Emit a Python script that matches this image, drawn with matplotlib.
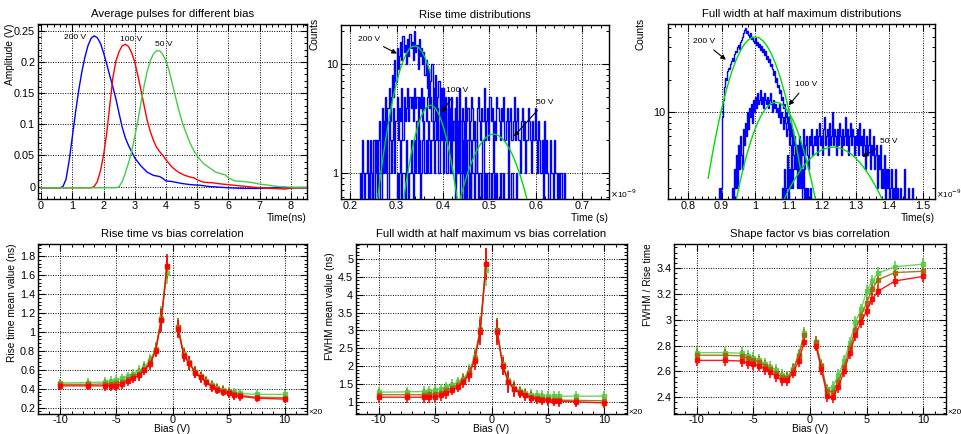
import numpy as np
import matplotlib
matplotlib.use("Agg")
import matplotlib.pyplot as plt
from matplotlib.ticker import MultipleLocator, FixedLocator, FuncFormatter, NullFormatter

plt.rcParams['font.family'] = ['Liberation Sans', 'DejaVu Sans']
plt.rcParams['axes.unicode_minus'] = False

# ---- average pulses (time in ns, amplitude in V)
t_200 = [0.0, 0.3, 0.6, 0.7, 0.8, 0.9, 1.0, 1.1, 1.2, 1.3, 1.4, 1.5, 1.6, 1.7, 1.8, 1.9, 2.0, 2.1, 2.2,
         2.3, 2.4, 2.5, 2.6, 2.7, 2.8, 2.9, 3.0, 3.2, 3.4, 3.6, 3.8, 3.9, 4.0, 4.2, 4.5, 4.8, 5.1, 5.4,
         5.7, 6.0, 6.5, 7.0, 7.5, 8.0, 8.5]
a_200 = [-0.002, -0.002, -0.002, 0.0, 0.012, 0.042, 0.08, 0.118, 0.153, 0.183, 0.207, 0.226, 0.238,
         0.242, 0.239, 0.23, 0.215, 0.197, 0.178, 0.16, 0.14, 0.117, 0.095, 0.078, 0.066, 0.056, 0.046,
         0.033, 0.023, 0.018, 0.016, 0.013, 0.009, 0.008, 0.005, 0.003, 0.002, 0.0, -0.001, -0.002,
         -0.003, -0.003, -0.002, -0.002, -0.002]
t_100 = [0.0, 0.8, 1.6, 1.7, 1.8, 1.9, 2.0, 2.1, 2.2, 2.3, 2.4, 2.5, 2.6, 2.7, 2.8, 2.9, 3.0, 3.1, 3.2,
         3.3, 3.4, 3.5, 3.6, 3.7, 3.8, 3.9, 4.0, 4.2, 4.4, 4.6, 4.8, 4.9, 5.0, 5.2, 5.5, 5.8, 6.2, 6.6,
         7.0, 7.4, 7.8, 8.1, 8.5]
a_100 = [-0.002, -0.002, -0.002, 0.0, 0.008, 0.025, 0.05, 0.085, 0.13, 0.175, 0.202, 0.217, 0.226,
         0.2285, 0.225, 0.215, 0.2, 0.178, 0.155, 0.13, 0.106, 0.088, 0.074, 0.063, 0.056, 0.05, 0.043,
         0.031, 0.023, 0.018, 0.015, 0.014, 0.011, 0.007, 0.006, 0.004, 0.002, 0.0, -0.002, -0.003,
         -0.004, -0.002, -0.002]
t_50 = [0.0, 1.2, 2.4, 2.5, 2.6, 2.7, 2.8, 2.9, 3.0, 3.1, 3.2, 3.3, 3.4, 3.5, 3.6, 3.7, 3.8, 3.9, 4.0,
        4.1, 4.2, 4.3, 4.4, 4.5, 4.6, 4.7, 4.8, 4.9, 5.0, 5.2, 5.4, 5.6, 5.8, 5.9, 6.0, 6.2, 6.5, 6.8,
        7.0, 7.3, 7.6, 8.0, 8.5]
a_50 = [-0.002, -0.002, -0.002, 0.0, 0.008, 0.022, 0.038, 0.056, 0.08, 0.105, 0.135, 0.162, 0.185,
        0.202, 0.213, 0.218, 0.218, 0.212, 0.202, 0.186, 0.166, 0.145, 0.125, 0.107, 0.092, 0.079,
        0.067, 0.057, 0.049, 0.037, 0.03, 0.023, 0.02, 0.019, 0.014, 0.009, 0.008, 0.006, 0.004,
        0.002, 0.0, -0.001, -0.001]

# ---- rise time histograms (x in 1e-9 s, bin width 0.0025)
rise_bw = 0.0025
rise_start = [0.22, 0.24, 0.30]
rise_200 = [1, 0, 2, 1, 0, 1, 2, 0, 1, 2, 1, 0, 2, 1, 2, 1,
            2, 3, 1, 4, 2, 3, 5, 2, 4, 6, 3, 5,
            8, 5, 11, 7, 14, 9, 12, 16,
            11, 18, 13, 15, 10, 17, 12, 19, 14, 16, 11, 20, 13, 15, 9, 17, 12, 14, 10, 13,
            8, 11, 6, 9, 5, 7, 10, 4, 6, 8, 3, 5, 7, 4, 6, 3,
            4, 2, 5, 1, 3, 2, 4, 1, 2, 3, 0, 2, 1, 3, 1, 0, 2, 1, 0, 1, 0, 1, 0, 1]
rise_100 = [1, 0, 0, 1, 0, 2, 1, 0, 1, 1, 0, 2, 1, 3, 1, 2, 0, 3, 2, 1,
            2, 4, 1, 3, 5, 2, 4, 3, 6, 2, 5, 3, 4, 6, 3, 5,
            4, 5, 3, 6, 4, 5, 2, 5, 4, 6, 3, 5, 4, 3, 5, 6, 4, 5, 3, 4,
            6, 3, 5, 4, 2, 5, 3, 4, 6, 3, 4, 2, 5, 3, 4, 2,
            3, 2, 4, 1, 3, 2, 2, 3, 1, 2, 0, 3, 1, 2, 1, 0, 2, 1, 1, 0, 2, 1, 0, 1, 1, 0, 2, 0,
            1, 0, 1, 1, 0, 1, 0, 0, 1, 0, 1, 0, 0, 1, 0, 0, 1, 0, 0, 0, 1, 0, 0, 1, 0, 0, 0, 1]
rise_50 = [1, 0, 1, 2, 0, 1, 1, 0, 2, 1, 0, 1, 2, 1, 0, 2, 1, 3, 1, 2, 0, 1, 2, 3,
           1, 2, 1, 3, 2, 1, 2, 3, 1, 2, 4, 2, 1, 3, 2, 4, 1, 3, 2, 2, 4, 3, 1, 5,
           3, 2, 4, 5, 2, 3, 6, 1, 4, 3, 2, 5, 3, 4, 2, 3, 5, 4, 2, 3, 1, 4, 5, 3,
           2, 4, 3, 6, 2, 3, 4, 2, 5, 3, 4, 1, 3, 2, 5, 4, 3, 2, 4, 3, 5, 2, 3, 4,
           1, 3, 4, 2, 3, 5, 2, 3, 4, 2, 1, 3, 4, 2, 3, 1, 2, 4, 3, 2, 1, 3, 2, 4,
           2, 1, 3, 2, 1, 2, 0, 3, 1, 2, 1, 0, 2, 1, 1, 0, 2, 1, 0, 1, 0, 1, 1, 0, 1, 0]
rise_fit_amp = [14.7, 4.2, 2.28]
rise_fit_mean = [0.339, 0.373, 0.509]
rise_fit_sigma = [0.0315, 0.029, 0.0435]
rise_fit_lo = [0.25, 0.30, 0.43]
rise_fit_hi = [0.373, 0.44, 0.60]

# ---- FWHM histograms (x in 1e-9 s, bin width 0.003)
fwhm_bw = 0.003
fwhm_start = [0.885, 0.93, 1.08]
fwhm_200 = [1, 0, 2, 1, 2,
            9, 13, 17, 21, 20, 24, 26, 25, 28, 30,
            32, 30, 35, 37, 36, 40, 42, 39, 45, 47,
            50, 54, 58, 61, 55, 57, 52, 50, 55, 48,
            50, 46, 44, 49, 42, 45, 40, 43, 38, 41,
            36, 39, 34, 37, 31, 33, 29, 31, 27, 28,
            25, 22, 24, 19, 21, 17, 18, 15, 16, 13,
            14, 11, 12, 9, 10, 8, 9, 7, 8, 6,
            7, 5, 6, 5, 5, 4, 5, 4, 5, 2]
fwhm_100 = [2, 1, 3, 2, 4, 2, 5, 3, 6, 4, 3, 7, 5,
            8, 6, 10, 7, 11, 9, 12, 8, 13, 10,
            14, 11, 15, 12, 13, 16, 12, 14, 11, 15,
            13, 12, 14, 11, 13, 15, 12, 10, 13, 11,
            12, 10, 11, 9, 12, 8, 10, 9, 7, 9,
            8, 6, 7, 9, 5, 7, 6, 4, 6, 5,
            4, 5, 3, 4, 2, 4, 3, 2, 3, 1,
            2, 1, 2, 0, 1, 2, 1, 0, 1, 1, 0, 1, 0, 0, 1, 0, 1]
fwhm_50 = [2, 0, 3, 1, 2, 4, 1, 3, 2, 5, 2, 3, 4,
           3, 5, 2, 4, 6, 3, 5, 4, 7, 3, 5, 6, 4, 3, 6, 5, 7, 4, 5, 6,
           5, 7, 4, 6, 8, 5, 6, 4, 7, 9, 5, 6, 7, 4, 8, 5, 6, 10, 5, 7,
           6, 4, 7, 5, 8, 6, 4, 7, 5, 6, 9, 5, 7, 4, 6, 8, 5, 7, 6, 4,
           6, 5, 7, 4, 8, 5, 6, 4, 7, 5, 3, 6, 4, 5, 7, 3, 5, 4, 6, 3, 4, 5, 2, 4, 3, 5, 2,
           3, 2, 4, 1, 3, 2, 3, 0, 2, 3, 1, 2, 0, 3, 1, 2, 0, 1, 2, 0, 1, 3, 0, 1, 0, 2, 0, 1, 0, 2]
fwhm_fit_amp = [50.0, 12.4, 4.75]
fwhm_fit_mean = [1.0, 1.062, 1.233]
fwhm_fit_sigma = [0.057, 0.058, 0.098]
fwhm_fit_lo = [0.86, 0.93, 1.08]
fwhm_fit_hi = [1.135, 1.18, 1.39]

# ---- correlations vs bias (bias in units of 20 V)
bias = [-10, -7.5, -6, -5.5, -5, -4.5, -4, -3.5, -3, -2.5, -2, -1.5, -1, -0.5,
        0.5, 1, 1.5, 2, 2.5, 3, 3.5, 4, 4.5, 5, 5.5, 6, 7.5, 10]
rise_green = [0.46, 0.465, 0.47, 0.48, 0.49, 0.51, 0.53, 0.56, 0.59, 0.63, 0.70, 0.82, 1.15, 1.62,
              1.05, 0.77, 0.68, 0.58, 0.53, 0.48, 0.44, 0.41, 0.39, 0.37, 0.36, 0.35, 0.34, 0.34]
rise_brown = [0.445, 0.445, 0.45, 0.45, 0.455, 0.47, 0.50, 0.53, 0.56, 0.61, 0.68, 0.81, 1.13, 1.68,
              1.05, 0.76, 0.67, 0.575, 0.525, 0.475, 0.43, 0.40, 0.38, 0.36, 0.34, 0.33, 0.31, 0.305]
rise_red = [0.43, 0.43, 0.43, 0.43, 0.43, 0.45, 0.48, 0.51, 0.54, 0.60, 0.66, 0.80, 1.12, 1.70,
            1.03, 0.75, 0.67, 0.57, 0.52, 0.47, 0.42, 0.39, 0.37, 0.35, 0.33, 0.32, 0.30, 0.29]
rise_err = [0.045, 0.045, 0.05, 0.05, 0.05, 0.05, 0.05, 0.05, 0.055, 0.06, 0.065, 0.07, 0.12, 0.12,
            0.10, 0.07, 0.07, 0.06, 0.055, 0.05, 0.05, 0.045, 0.045, 0.045, 0.045, 0.045, 0.045, 0.045]
fwhm_green = [1.27, 1.28, 1.29, 1.30, 1.32, 1.36, 1.41, 1.48, 1.55, 1.65, 1.85, 2.25, 3.05, 4.7,
              3.0, 2.05, 1.6, 1.4, 1.3, 1.24, 1.2, 1.18, 1.17, 1.16, 1.16, 1.16, 1.16, 1.16]
fwhm_brown = [1.2, 1.2, 1.2, 1.21, 1.22, 1.26, 1.32, 1.40, 1.48, 1.60, 1.80, 2.2, 3.0, 4.85,
              3.0, 2.0, 1.57, 1.37, 1.27, 1.2, 1.15, 1.11, 1.09, 1.07, 1.06, 1.05, 1.04, 1.03]
fwhm_red = [1.13, 1.13, 1.13, 1.13, 1.14, 1.18, 1.24, 1.33, 1.42, 1.55, 1.75, 2.15, 2.95, 4.85,
            2.95, 2.0, 1.55, 1.35, 1.25, 1.18, 1.12, 1.08, 1.06, 1.04, 1.03, 1.02, 1.0, 0.97]
fwhm_err = [0.15, 0.15, 0.15, 0.15, 0.15, 0.15, 0.15, 0.15, 0.15, 0.17, 0.2, 0.25, 0.35, 0.45,
            0.35, 0.25, 0.3, 0.2, 0.15, 0.15, 0.15, 0.15, 0.15, 0.15, 0.15, 0.15, 0.15, 0.15]
shape_green = [2.745, 2.745, 2.74, 2.72, 2.705, 2.69, 2.66, 2.635, 2.61, 2.57, 2.56, 2.62, 2.73, 2.90,
               2.83, 2.65, 2.46, 2.48, 2.57, 2.68, 2.82, 2.98, 3.08, 3.22, 3.30, 3.36, 3.41, 3.43]
shape_brown = [2.725, 2.725, 2.72, 2.70, 2.685, 2.675, 2.645, 2.615, 2.585, 2.555, 2.55, 2.61, 2.72, 2.88,
               2.83, 2.64, 2.45, 2.44, 2.52, 2.63, 2.78, 2.92, 3.03, 3.13, 3.24, 3.31, 3.365, 3.375]
shape_red = [2.685, 2.685, 2.68, 2.665, 2.655, 2.645, 2.62, 2.595, 2.565, 2.53, 2.53, 2.59, 2.68, 2.83,
             2.80, 2.62, 2.41, 2.40, 2.48, 2.60, 2.74, 2.88, 2.98, 3.07, 3.16, 3.22, 3.30, 3.335]
shape_err = [0.045] * 28

W, H = 961, 434
fig = plt.figure(figsize=(W / 100, H / 100), dpi=100)
fmt_g = FuncFormatter(lambda v, p: "%g" % round(v, 6))
TITLE_FS = 8.2


def px_axes(x0, y0, x1, y1):
    return fig.add_axes([x0 / W, 1 - y1 / H, (x1 - x0) / W, (y1 - y0) / H])


def root_style(ax):
    ax.tick_params(which='both', direction='in', top=True, right=True, labelsize=7.8, pad=2)
    ax.tick_params(axis='x', which='both', pad=1.5)
    ax.tick_params(which='major', length=5, width=0.8)
    ax.tick_params(which='minor', length=2.5, width=0.7)
    ax.grid(True, which='major', color='black', linestyle=(0, (1, 1.5)), linewidth=0.7)
    for s in ax.spines.values():
        s.set_linewidth(1.0)


def gauss_fit(ax, amp, mean, sig, lo, hi):
    xs = np.linspace(lo, hi, 200)
    ax.plot(xs, amp * np.exp(-0.5 * ((xs - mean) / sig) ** 2), color='#00dd00', lw=1.0, zorder=4)


def hist_steps(ax, start, bw, counts, ymin):
    c = np.maximum(np.array(counts, dtype=float), ymin)
    edges = start + bw * np.arange(len(c) + 1)
    ax.stairs(c, edges, baseline=ymin, color='blue', lw=1.0, zorder=3)


# ---------------- top left
ax = px_axes(38, 24, 307, 199)
root_style(ax)
ax.plot(t_200, a_200, color='blue', lw=1.0)
ax.plot(t_100, a_100, color='red', lw=1.0)
ax.plot(t_50, a_50, color='#44cc44', lw=1.0)
ax.set_xlim(-0.1, 8.52)
ax.set_ylim(-0.02, 0.261)
ax.xaxis.set_major_locator(MultipleLocator(1))
ax.xaxis.set_minor_locator(MultipleLocator(0.2))
ax.yaxis.set_major_locator(MultipleLocator(0.05))
ax.yaxis.set_minor_locator(MultipleLocator(0.01))
ax.yaxis.set_major_formatter(fmt_g)
ax.text(1.08, 0.24, "200 V", fontsize=6, ha='center', va='center')
ax.text(2.88, 0.236, "100 V", fontsize=6, ha='center', va='center')
ax.text(3.94, 0.228, "50 V", fontsize=6, ha='center', va='center')
ax.set_title("Average pulses for different bias", fontsize=TITLE_FS, pad=5)
fig.text(10 / W, 1 - 54 / H, "Amplitude (V)", rotation=90, fontsize=7.3, ha='center', va='center')
fig.text(307 / W, 1 - 218 / H, "Time(ns)", fontsize=7.3, ha='right', va='center')

# ---------------- top middle
ax = px_axes(341, 25, 609, 199)
root_style(ax)
ax.set_yscale('log')
ymin = 0.58
for st, cnt in zip(rise_start, [rise_200, rise_100, rise_50]):
    hist_steps(ax, st, rise_bw, cnt, ymin)
for i in range(3):
    gauss_fit(ax, rise_fit_amp[i], rise_fit_mean[i], rise_fit_sigma[i], rise_fit_lo[i], rise_fit_hi[i])
ax.set_xlim(0.18, 0.758)
ax.set_ylim(ymin, 22.9)
ax.xaxis.set_major_locator(MultipleLocator(0.1))
ax.xaxis.set_minor_locator(MultipleLocator(0.02))
ax.xaxis.set_major_formatter(fmt_g)
ax.yaxis.set_major_locator(FixedLocator([1, 10]))
ax.yaxis.set_major_formatter(fmt_g)
ax.yaxis.set_minor_locator(FixedLocator([0.6, 0.7, 0.8, 0.9, 2, 3, 4, 5, 6, 7, 8, 9, 20]))
ax.yaxis.set_minor_formatter(NullFormatter())
arrow = dict(arrowstyle='-|>', color='black', lw=0.8, mutation_scale=7)
ax.annotate("200 V", xy=(0.306, 12.2), xytext=(0.24, 17), fontsize=6, ha='center', va='center', arrowprops=arrow)
ax.annotate("100 V", xy=(0.394, 3.43), xytext=(0.43, 5.8), fontsize=6, ha='center', va='center', arrowprops=arrow)
ax.annotate("50 V", xy=(0.549, 2.09), xytext=(0.62, 4.5), fontsize=6, ha='center', va='center', arrowprops=arrow)
ax.set_title("Rise time distributions", fontsize=TITLE_FS, pad=5)
fig.text(315 / W, 1 - 34 / H, "Counts", rotation=90, fontsize=7.3, ha='center', va='center')
fig.text(608 / W, 1 - 218 / H, "Time (s)", fontsize=7.3, ha='right', va='center')
fig.text(610 / W, 1 - 194 / H, r"$\times$10$^{-9}$", fontsize=6, ha='left', va='center')

# ---------------- top right
ax = px_axes(668, 24, 935, 199)
root_style(ax)
ax.set_yscale('log')
ymin = 1.57
for st, cnt in zip(fwhm_start, [fwhm_200, fwhm_100, fwhm_50]):
    hist_steps(ax, st, fwhm_bw, cnt, ymin)
for i in range(3):
    gauss_fit(ax, fwhm_fit_amp[i], fwhm_fit_mean[i], fwhm_fit_sigma[i], fwhm_fit_lo[i], fwhm_fit_hi[i])
ax.set_xlim(0.74, 1.537)
ax.set_ylim(ymin, 66)
ax.xaxis.set_major_locator(MultipleLocator(0.1))
ax.xaxis.set_minor_locator(MultipleLocator(0.02))
ax.xaxis.set_major_formatter(fmt_g)
ax.yaxis.set_major_locator(FixedLocator([10]))
ax.yaxis.set_major_formatter(fmt_g)
ax.yaxis.set_minor_locator(FixedLocator([2, 3, 4, 5, 6, 7, 8, 9, 20, 30, 40, 50, 60]))
ax.yaxis.set_minor_formatter(NullFormatter())
ax.annotate("200 V", xy=(0.919, 29.6), xytext=(0.847, 45), fontsize=6, ha='center', va='center', arrowprops=arrow)
ax.annotate("100 V", xy=(1.095, 11.1), xytext=(1.152, 18), fontsize=6, ha='center', va='center', arrowprops=arrow)
ax.annotate("50 V", xy=(1.313, 3.74), xytext=(1.398, 5.4), fontsize=6, ha='center', va='center', arrowprops=arrow)
ax.set_title("Full width at half maximum distributions", fontsize=TITLE_FS, pad=5)
fig.text(641 / W, 1 - 34 / H, "Counts", rotation=90, fontsize=7.3, ha='center', va='center')
fig.text(935 / W, 1 - 218 / H, "Time(s)", fontsize=7.3, ha='right', va='center')
fig.text(936 / W, 1 - 194 / H, r"$\times$10$^{-9}$", fontsize=5.8, ha='left', va='center')


# ---------------- bottom row
def corr_panel(rect, series, err, ylim, ymaj, ymin_step, title, ylabel, ylab_y, ylab_x):
    ax = px_axes(*rect)
    root_style(ax)
    b = np.array(bias)
    e = np.array(err)
    for vals, col, a in series:
        v = np.array(vals)
        for m in (b < 0, b > 0):
            ax.errorbar(b[m], v[m], yerr=e[m], color=col, lw=1.0, marker='s', ms=2.6,
                        elinewidth=1.3, capsize=0, alpha=a)
    ax.set_xlim(-12, 12)
    ax.set_ylim(*ylim)
    ax.xaxis.set_major_locator(MultipleLocator(5))
    ax.xaxis.set_minor_locator(MultipleLocator(1))
    ax.yaxis.set_major_locator(MultipleLocator(ymaj))
    ax.yaxis.set_minor_locator(MultipleLocator(ymin_step))
    ax.yaxis.set_major_formatter(fmt_g)
    ax.tick_params(axis='x', which='both', pad=0.5)
    ax.set_title(title, fontsize=TITLE_FS, pad=5)
    cx = (rect[0] + rect[2]) / 2
    fig.text(ylab_x / W, 1 - ylab_y / H, ylabel, rotation=90, fontsize=7.3, ha='center', va='center')
    fig.text(cx / W, 1 - 434 / H, "Bias (V)", fontsize=7.3, ha='center', va='bottom')
    fig.text((rect[2] + 1) / W, 1 - 412 / H, "×20", fontsize=6, ha='left', va='center')
    return ax


corr_panel((38, 244, 307, 414),
           [(rise_green, '#55cc44', 0.85), (rise_brown, '#a0680c', 0.9), (rise_red, 'red', 0.9)],
           rise_err, (0.133, 1.927), 0.2, 0.04, "Rise time vs bias correlation",
           "Rise time mean value (ns)", 303, 12)
corr_panel((356, 244, 627, 414),
           [(fwhm_green, '#55cc44', 0.85), (fwhm_brown, '#a0680c', 0.9), (fwhm_red, 'red', 0.9)],
           fwhm_err, (0.66, 5.42), 0.5, 0.1, "Full width at half maximum vs bias correlation",
           "FWHM mean value (ns)", 306, 330)
corr_panel((674, 244, 946, 414),
           [(shape_green, '#55cc44', 0.85), (shape_brown, '#a0680c', 0.9), (shape_red, 'red', 0.9)],
           shape_err, (2.27, 3.586), 0.2, 0.04, "Shape factor vs bias correlation",
           "FWHM / Rise time", 285, 648)

fig.savefig("out.png", dpi=100)
